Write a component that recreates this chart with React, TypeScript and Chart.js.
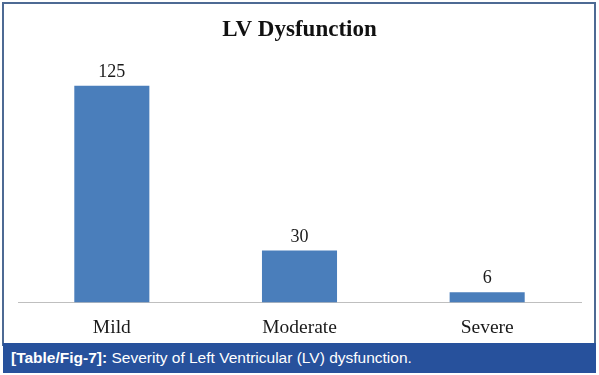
import React, { useEffect, useRef } from "react";
import { Chart, registerables } from "chart.js";

Chart.register(...registerables);

const categories = ["Mild", "Moderate", "Severe"];
const counts = [125, 30, 6];
const titleText = "LV Dysfunction";
const captionLabel = "[Table/Fig-7]:";
const captionText = " Severity of Left Ventricular (LV) dysfunction.";

const valueLabels = {
  id: "valueLabels",
  afterDatasetsDraw(chart: any) {
    const ctx = chart.ctx;
    ctx.save();
    ctx.font = "18px 'Liberation Serif', 'Times New Roman', serif";
    ctx.fillStyle = "#1a1a1a";
    ctx.textAlign = "center";
    ctx.textBaseline = "alphabetic";
    chart.getDatasetMeta(0).data.forEach((el: any, i: number) => {
      ctx.fillText(String(chart.data.datasets[0].data[i]), el.x, el.y - 9);
    });
    ctx.restore();
  },
};

export default function App() {
  const ref = useRef<HTMLCanvasElement>(null);
  useEffect(() => {
    const chart = new Chart(ref.current!, {
      type: "bar",
      data: {
        labels: categories,
        datasets: [
          {
            data: counts,
            backgroundColor: "#4a7ebb",
            categoryPercentage: 1,
            barPercentage: 0.4,
          },
        ],
      },
      options: {
        animation: false,
        responsive: false,
        maintainAspectRatio: false,
        layout: { padding: { left: 18, right: 18, top: 3, bottom: 11 } },
        plugins: {
          legend: { display: false },
          tooltip: { enabled: false },
          title: {
            display: true,
            text: titleText,
            color: "#111",
            font: { family: "'Liberation Serif', 'Times New Roman', serif", size: 23, weight: "bold" },
            padding: { top: 13, bottom: 16 },
          },
        },
        scales: {
          x: {
            grid: { display: false },
            border: { display: true, color: "#bfbfbf", width: 1 },
            ticks: {
              color: "#1a1a1a",
              padding: 6,
              font: { family: "'Liberation Serif', 'Times New Roman', serif", size: 19.5 },
            },
          },
          y: {
            display: false,
            min: 0,
            max: 140,
          },
        },
      },
      plugins: [valueLabels],
    });
    return () => chart.destroy();
  }, []);

  return (
    <div style={{ position: "fixed", left: 0, top: 0, width: 599, height: 375, background: "#fff", overflow: "hidden" }}>
      <div
        style={{
          position: "absolute",
          left: 2,
          top: 2,
          width: 590,
          height: 342,
          border: "2px solid #4d6a94",
          borderBottom: "none",
          boxSizing: "content-box",
        }}
      />
      <canvas ref={ref} width={599} height={357} style={{ position: "absolute", left: 0, top: 0 }} />
      <div
        style={{
          position: "absolute",
          left: 3,
          top: 343,
          width: 593,
          height: 30,
          background: "#27519c",
          color: "#fff",
          fontFamily: "'Liberation Sans', Arial, sans-serif",
          fontSize: 15.5,
          lineHeight: "29px",
          paddingLeft: 8,
          boxSizing: "border-box",
          whiteSpace: "nowrap",
        }}
      >
        <span style={{ fontWeight: "bold" }}>{captionLabel}</span>
        <span>{captionText}</span>
      </div>
    </div>
  );
}
